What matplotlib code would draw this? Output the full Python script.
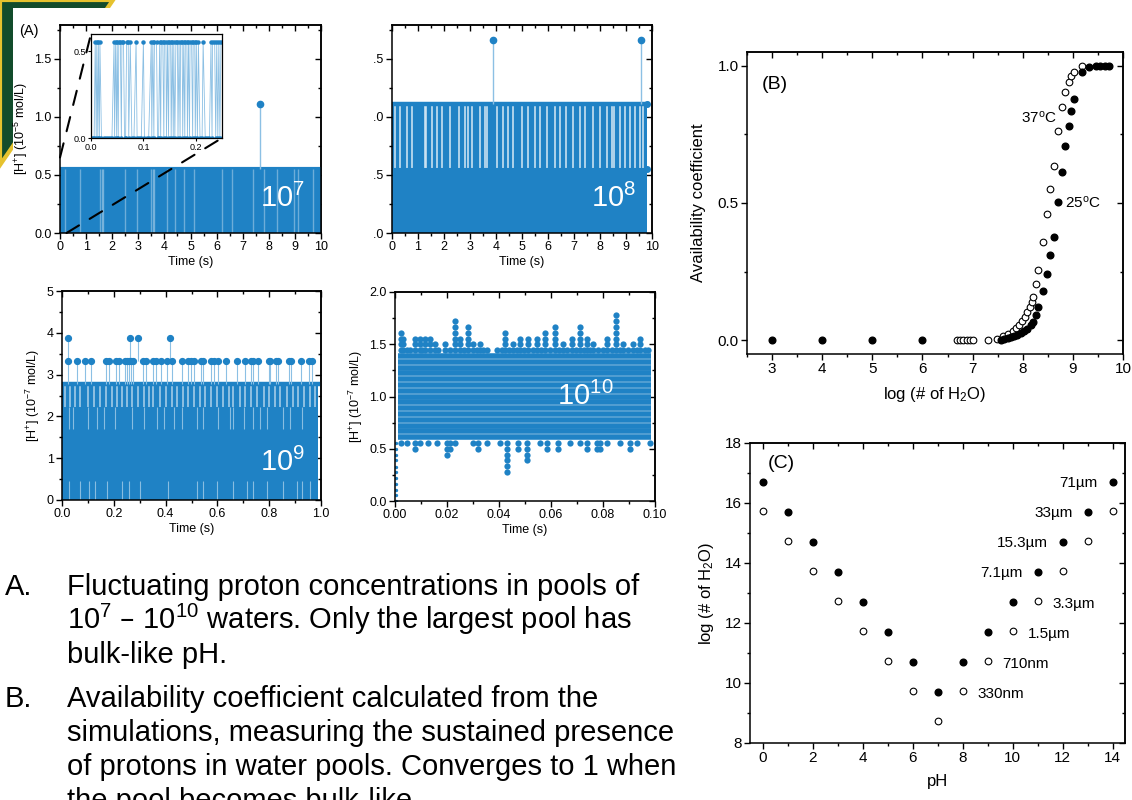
import matplotlib
matplotlib.use('Agg')
import matplotlib.pyplot as plt
import numpy as np
from matplotlib.ticker import MultipleLocator
from matplotlib.patches import Polygon, Rectangle, ConnectionPatch

plt.rcParams['font.family'] = ['Liberation Sans', 'DejaVu Sans']
plt.rcParams['mathtext.default'] = 'regular'

W, H = 1132, 800
BLUE = '#1f82c5'
LIGHT = '#8cc0e4'

# ---------------- data ----------------
# (A) 10^7 waters, units 1e-5 mol/L
a1_level = 0.555
a1_end = 10.0
a1_gaps = [0.2, 0.75, 1.55, 1.6, 1.65, 2.5, 2.95, 3.5, 3.55, 3.6, 4.1, 4.4,
           4.75, 5.15, 6.2, 6.6, 7.4, 7.8, 8.3, 8.95, 9.1, 9.7]
a1_spike_t = [7.65]
a1_spike_v = [1.11]
# inset (first 0.25 s)
in_high_t = [0.008, 0.011, 0.014, 0.017, 0.044, 0.047, 0.050, 0.053, 0.056,
             0.059, 0.062, 0.068, 0.071, 0.075, 0.086, 0.100, 0.115, 0.118,
             0.121, 0.125, 0.131, 0.134, 0.137, 0.140, 0.143, 0.146, 0.149,
             0.152, 0.155, 0.158, 0.162, 0.165, 0.168, 0.171, 0.174, 0.177,
             0.180, 0.183, 0.186, 0.189, 0.192, 0.195, 0.198, 0.201, 0.205,
             0.214, 0.229, 0.232, 0.236, 0.240, 0.244, 0.248]
in_low_t = [0.000, 0.003, 0.006, 0.010, 0.013, 0.016, 0.020, 0.024, 0.028,
            0.032, 0.036, 0.040, 0.045, 0.049, 0.052, 0.058, 0.064, 0.066,
            0.072, 0.078, 0.082, 0.088, 0.092, 0.096, 0.102, 0.106, 0.110,
            0.116, 0.120, 0.127, 0.129, 0.133, 0.139, 0.144, 0.148, 0.153,
            0.157, 0.160, 0.166, 0.170, 0.175, 0.179, 0.184, 0.188, 0.194,
            0.199, 0.203, 0.208, 0.212, 0.218, 0.222, 0.226, 0.231, 0.238,
            0.242, 0.246]

# (A) 10^8 waters, units 1e-6 mol/L
a2_levels = [0.555, 1.11]
a2_end = 9.8
a2_stripes = [0.13, 0.32, 0.58, 0.77, 1.25, 1.32, 1.53, 1.73, 1.92, 2.24,
              2.56, 2.81, 2.94, 3.07, 3.39, 3.58, 3.64, 4.03, 4.28, 4.48,
              4.67, 4.99, 5.24, 5.5, 5.69, 5.95, 6.27, 6.46, 6.71, 6.97,
              7.22, 7.42, 7.74, 7.99, 8.25, 8.45, 8.52, 8.76, 8.95, 9.14,
              9.34, 9.53, 9.65]
a2_spike_t = [3.87, 9.57]
a2_spike_v = [1.665, 1.665]

# (A) 10^9 waters, units 1e-7 mol/L
a3_levels = [2.22, 2.775]
a3_end = 0.99
a3_band_stripes = [0.013, 0.032, 0.051, 0.071, 0.099, 0.122, 0.148, 0.171,
                   0.193, 0.212, 0.231, 0.251, 0.270, 0.292, 0.315, 0.334,
                   0.353, 0.379, 0.401, 0.424, 0.443, 0.466, 0.488, 0.508,
                   0.531, 0.553, 0.575, 0.598, 0.621, 0.643, 0.662, 0.688,
                   0.707, 0.729, 0.752, 0.778, 0.801, 0.823, 0.842, 0.868,
                   0.893, 0.912, 0.934, 0.957, 0.977]
a3_mid_stripes = [0.026, 0.042, 0.099, 0.135, 0.161, 0.206, 0.270, 0.315,
                  0.366, 0.392, 0.431, 0.463, 0.521, 0.546, 0.604, 0.649,
                  0.662, 0.701, 0.739, 0.765, 0.791, 0.855, 0.881, 0.925]
a3_low_stripes = [0.026, 0.071, 0.103, 0.128, 0.173, 0.231, 0.257, 0.302,
                  0.411, 0.521, 0.546, 0.598, 0.662, 0.713, 0.739, 0.791,
                  0.855, 0.906, 0.925, 0.958]
a3_spike1_t = [0.023, 0.058, 0.088, 0.112, 0.171, 0.180, 0.208, 0.220,
               0.242, 0.251, 0.258, 0.268, 0.276, 0.312, 0.324, 0.351,
               0.362, 0.383, 0.405, 0.424, 0.463, 0.488, 0.497, 0.510,
               0.535, 0.545, 0.576, 0.585, 0.601, 0.632, 0.677, 0.707,
               0.730, 0.736, 0.758, 0.798, 0.803, 0.826, 0.835, 0.877,
               0.884, 0.924, 0.955, 0.965]
a3_spike1_v = 3.33
a3_spike2_t = [0.023, 0.261, 0.292, 0.416]
a3_spike2_v = 3.885

# (A) 10^10 waters, units 1e-7 mol/L
a4_core = [0.611, 0.666, 0.722, 0.777, 0.833, 0.888, 0.944, 0.999, 1.055,
           1.110, 1.166, 1.221, 1.277, 1.332, 1.388]
a4_span = (0.0012, 0.0985)
a4_peak_t = [0.0023, 0.0032, 0.0045, 0.0058, 0.0077, 0.0096, 0.0105, 0.0115,
             0.0135, 0.0154, 0.0165, 0.0192, 0.0212, 0.0231, 0.0250, 0.0265,
             0.0280, 0.0301, 0.0315, 0.0327, 0.0340, 0.0353, 0.0391, 0.0410,
             0.0423, 0.0440, 0.0455, 0.0470, 0.0481, 0.0495, 0.0513, 0.0530,
             0.0545, 0.0560, 0.0577, 0.0595, 0.0615, 0.0630, 0.0647, 0.0660,
             0.0679, 0.0695, 0.0712, 0.0725, 0.0737, 0.0750, 0.0763, 0.0780,
             0.0800, 0.0814, 0.0835, 0.0850, 0.0865, 0.0878, 0.0895, 0.0917,
             0.0930, 0.0942, 0.0960, 0.0974]
a4_peak_v = [1.61, 1.55, 1.44, 1.44, 1.55, 1.55, 1.44, 1.55,
             1.55, 1.50, 1.44, 1.50, 1.44, 1.72, 1.55, 1.44,
             1.66, 1.50, 1.44, 1.50, 1.44, 1.44, 1.44, 1.44,
             1.61, 1.44, 1.50, 1.44, 1.55, 1.44, 1.55, 1.44,
             1.55, 1.44, 1.61, 1.44, 1.66, 1.44, 1.50, 1.44,
             1.55, 1.44, 1.66, 1.44, 1.55, 1.44, 1.50, 1.44,
             1.44, 1.55, 1.44, 1.78, 1.44, 1.50, 1.44, 1.50,
             1.44, 1.55, 1.44, 1.44]
a4_dip_t = [0.0023, 0.0045, 0.0077, 0.0096, 0.0128, 0.0160, 0.0199, 0.0212,
            0.0231, 0.0301, 0.0320, 0.0353, 0.0404, 0.0429, 0.0474, 0.0506,
            0.0558, 0.0583, 0.0628, 0.0673, 0.0712, 0.0737, 0.0776, 0.0788,
            0.0814, 0.0865, 0.0904, 0.0929, 0.0981]
a4_dip_v = [0.55, 0.55, 0.50, 0.55, 0.55, 0.55, 0.44, 0.50,
            0.55, 0.55, 0.50, 0.55, 0.55, 0.28, 0.50, 0.39,
            0.55, 0.50, 0.50, 0.55, 0.55, 0.50, 0.50, 0.50,
            0.55, 0.55, 0.50, 0.55, 0.55]
a4_ramp_t = 0.0003
a4_ramp_v = [0.0, 0.055, 0.11, 0.165, 0.22, 0.28, 0.33, 0.39, 0.44, 0.50, 0.555]
a4_step = 0.0555

# (B) availability coefficient
b25_x = [3, 4, 5, 6, 7.57, 7.63, 7.70, 7.76, 7.83, 7.89, 7.96, 8.03, 8.09,
         8.16, 8.21, 8.26, 8.31, 8.41, 8.49, 8.55, 8.62, 8.71, 8.79, 8.85,
         8.92, 8.97, 9.02, 9.18, 9.32, 9.47, 9.55, 9.64, 9.72]
b25_y = [0, 0, 0, 0, 0.002, 0.005, 0.007, 0.011, 0.015, 0.019, 0.025, 0.032,
         0.042, 0.054, 0.068, 0.093, 0.12, 0.178, 0.243, 0.31, 0.376, 0.504,
         0.614, 0.707, 0.78, 0.835, 0.88, 0.976, 0.997, 1.0, 1.0, 1.0, 1.0]
b37_x = [6.68, 6.75, 6.81, 6.88, 6.95, 7.01, 7.31, 7.48, 7.61, 7.71, 7.80,
         7.86, 7.93, 7.99, 8.04, 8.09, 8.14, 8.18, 8.20, 8.26, 8.31, 8.41,
         8.49, 8.55, 8.62, 8.71, 8.79, 8.85, 8.92, 8.97, 9.02, 9.18]
b37_y = [0, 0, 0, 0, 0, 0, 0.002, 0.006, 0.014, 0.024, 0.034, 0.045, 0.057,
         0.069, 0.084, 0.102, 0.12, 0.139, 0.157, 0.205, 0.257, 0.359, 0.461,
         0.551, 0.635, 0.763, 0.849, 0.904, 0.94, 0.964, 0.978, 1.0]

# (C) pool size vs pH
c_ph = [0, 1, 2, 3, 4, 5, 6, 7, 8, 9, 10, 11, 12, 13, 14]
c_filled = [16.7, 15.7, 14.7, 13.7, 12.7, 11.7, 10.7, 9.7, 10.7, 11.7, 12.7,
            13.7, 14.7, 15.7, 16.7]
c_open = [15.73, 14.73, 13.73, 12.73, 11.73, 10.73, 9.73, 8.73, 9.73, 10.73,
          11.73, 12.73, 13.73, 14.73, 15.73]
c_left_labels = ['7.1\u00b5m', '15.3\u00b5m', '33\u00b5m', '71\u00b5m']
c_left_idx = [11, 12, 13, 14]
c_right_labels = ['330nm', '710nm', '1.5\u00b5m', '3.3\u00b5m']
c_right_idx = [8, 9, 10, 11]

text_a = ['Fluctuating proton concentrations in pools of',
          '$10^{7}$ \u2013 $10^{10}$ waters. Only the largest pool has',
          'bulk-like pH.']
text_b = ['Availability coefficient calculated from the',
          'simulations, measuring the sustained presence',
          'of protons in water pools. Converges to 1 when',
          'the pool becomes bulk-like.']


def box(x0, y0, x1, y1):
    return [x0 / W, 1 - y1 / H, (x1 - x0) / W, (y1 - y0) / H]


def frame(ax, xmaj, xmin, ymaj, ymin, size=9):
    """Origin-like frame: ticks out on bottom/left, in on top/right"""
    ax.xaxis.set_major_locator(MultipleLocator(xmaj))
    ax.xaxis.set_minor_locator(MultipleLocator(xmin))
    ax.yaxis.set_major_locator(MultipleLocator(ymaj))
    ax.yaxis.set_minor_locator(MultipleLocator(ymin))
    ax.tick_params(which='both', direction='out', labelsize=size, width=1.0,
                   pad=2)
    ax.tick_params(which='major', length=4)
    ax.tick_params(which='minor', length=2.5)
    for sp in ax.spines.values():
        sp.set_linewidth(1.1)
    top = ax.secondary_xaxis('top')
    top.xaxis.set_major_locator(MultipleLocator(xmaj))
    top.xaxis.set_minor_locator(MultipleLocator(xmin))
    top.tick_params(which='both', direction='in', labeltop=False, width=1.0)
    top.tick_params(which='major', length=4)
    top.tick_params(which='minor', length=2.5)
    top.spines['top'].set_linewidth(1.1)
    right = ax.secondary_yaxis('right')
    right.yaxis.set_major_locator(MultipleLocator(ymaj))
    right.yaxis.set_minor_locator(MultipleLocator(ymin))
    right.tick_params(which='both', direction='in', labelright=False, width=1.0)
    right.tick_params(which='major', length=4)
    right.tick_params(which='minor', length=2.5)
    right.spines['right'].set_linewidth(1.1)


fig = plt.figure(figsize=(W / 100, H / 100), dpi=100)

# slide decoration: green corner with yellow edge, white page on top
fig.patches.append(Polygon([(0, 1), (113 / W, 1), (0, 1 - 165 / H)],
                           closed=True, facecolor='#124c2b',
                           edgecolor='#e6c22e', lw=3,
                           transform=fig.transFigure, zorder=-3))
fig.patches.append(Rectangle((13 / W, 0), 1, 1 - 8 / H, facecolor='white',
                             edgecolor='none', transform=fig.transFigure,
                             zorder=-2))

# ---------- A1 ----------
ax1 = fig.add_axes(box(60, 25, 321, 233))
ax1.fill_between([0, a1_end], 0, a1_level, color=BLUE, lw=0)
ax1.plot([0, a1_end], [a1_level, a1_level], color=BLUE, lw=3)
ax1.vlines(a1_gaps, 0, a1_level, color='white', alpha=0.35, lw=1)
ax1.vlines(a1_spike_t, a1_level, a1_spike_v, color=LIGHT, lw=1)
ax1.plot(a1_spike_t, a1_spike_v, 'o', color=BLUE, ms=4.5)
ax1.set_xlim(0, 10)
ax1.set_ylim(0, 1.79)
frame(ax1, 1, 0.5, 0.5, 0.25)
ax1.set_xlabel('Time (s)', fontsize=9, labelpad=2)
ax1.set_ylabel('[H$^{+}$] (10$^{-5}$ mol/L)', fontsize=9, labelpad=3)
ax1.text(9.4, 0.3, '$10^{7}$', color='white', fontsize=21, ha='right',
         va='center')
fig.text(29 / W, 1 - 31 / H, '(A)', fontsize=10.5, ha='center', va='center')

axin = fig.add_axes(box(91, 34, 222, 138))
in_t = sorted([(t, a1_level) for t in in_high_t] + [(t, 0.0) for t in in_low_t])
axin.plot([p[0] for p in in_t], [p[1] for p in in_t], color=LIGHT, lw=0.6)
axin.plot(in_high_t, [a1_level] * len(in_high_t), 'o', color=BLUE, ms=2.2)
axin.plot(in_low_t, [0.0] * len(in_low_t), 'o', color=BLUE, ms=2.2)
axin.set_xlim(0, 0.25)
axin.set_ylim(0, 0.6)
axin.xaxis.set_major_locator(MultipleLocator(0.1))
axin.yaxis.set_major_locator(MultipleLocator(0.5))
axin.tick_params(labelsize=6.5, length=2.5, pad=1, direction='out')
for sp in axin.spines.values():
    sp.set_linewidth(0.9)

for xyA, xyB in (((0, 0.65), (0, 1)), ((0.25, 0), (1, 0))):
    con = ConnectionPatch(xyA=xyA, coordsA=ax1.transData, xyB=xyB,
                          coordsB=axin.transAxes, color='black', lw=1.5,
                          linestyle=(0, (7, 6)), zorder=6)
    fig.add_artist(con)

# ---------- A2 ----------
ax2 = fig.add_axes(box(392, 25, 652, 233))
ax2.fill_between([0, a2_end], 0, a2_levels[1], color=BLUE, lw=0)
ax2.vlines(a2_stripes, a2_levels[0], a2_levels[1], color='#d4e8f5',
           alpha=0.85, lw=1.3)
ax2.plot([0, a2_end], [a2_levels[1]] * 2, color=BLUE, lw=3.2)
ax2.plot([0, a2_end], [a2_levels[0]] * 2, color=BLUE, lw=1.5)
ax2.plot([a2_end, a2_end], a2_levels, 'o', color=BLUE, ms=4)
ax2.vlines(a2_spike_t, a2_levels[1], a2_spike_v, color=LIGHT, lw=1)
ax2.plot(a2_spike_t, a2_spike_v, 'o', color=BLUE, ms=4.5)
ax2.set_xlim(0, 10)
ax2.set_ylim(0, 1.79)
frame(ax2, 1, 0.5, 0.5, 0.25)
ax2.set_xlabel('Time (s)', fontsize=9, labelpad=2)
ax2.text(9.4, 0.3, '$10^{8}$', color='white', fontsize=21, ha='right',
         va='center')

# white page margin covering the left part of A2 tick labels
fig.patches.append(Rectangle((326 / W, 1 - 239 / H), 48 / W, 219 / H,
                             facecolor='white', edgecolor='none',
                             transform=fig.transFigure, zorder=10))

# ---------- A3 ----------
ax3 = fig.add_axes(box(62, 291, 321, 500))
ax3.fill_between([0, a3_end], 0, a3_levels[1], color=BLUE, lw=0)
ax3.vlines(a3_band_stripes, a3_levels[0], a3_levels[1], color='#cfe5f4',
           alpha=0.8, lw=1.1)
ax3.vlines(a3_mid_stripes, 1.7, a3_levels[0], color='#cfe5f4', alpha=0.6,
           lw=0.8)
ax3.vlines(a3_low_stripes, 0, 0.45, color='#cfe5f4', alpha=0.6, lw=0.8)
ax3.plot([0, a3_end], [a3_levels[1]] * 2, color=BLUE, lw=3.2)
ax3.vlines(a3_spike1_t, a3_levels[1], a3_spike1_v, color=LIGHT, lw=0.8)
ax3.vlines(a3_spike2_t, a3_spike1_v, a3_spike2_v, color=LIGHT, lw=0.8)
ax3.plot(a3_spike1_t, [a3_spike1_v] * len(a3_spike1_t), 'o', color=BLUE,
         ms=4.2)
ax3.plot(a3_spike2_t, [a3_spike2_v] * len(a3_spike2_t), 'o', color=BLUE,
         ms=4.2)
ax3.set_xlim(0, 1)
ax3.set_ylim(0, 5)
frame(ax3, 0.2, 0.1, 1, 0.5)
ax3.set_xlabel('Time (s)', fontsize=9, labelpad=2)
ax3.set_ylabel('[H$^{+}$] (10$^{-7}$ mol/L)', fontsize=9, labelpad=3)
ax3.text(0.94, 0.9, '$10^{9}$', color='white', fontsize=21, ha='right',
         va='center')

# ---------- A4 ----------
ax4 = fig.add_axes(box(395, 292, 655, 501))
ax4.hlines(a4_core, a4_span[0], a4_span[1], color=BLUE, lw=4.0)
for t, v in zip(a4_peak_t, a4_peak_v):
    lv = np.arange(a4_core[-1] + a4_step, v + 0.01, a4_step)
    ax4.plot([t] * len(lv), lv, 'o', color=BLUE, ms=4.5, mew=0)
for t, v in zip(a4_dip_t, a4_dip_v):
    lv = np.arange(a4_core[0] - a4_step, v - 0.01, -a4_step)
    ax4.plot([t] * len(lv), lv, 'o', color=BLUE, ms=4.5, mew=0)
ax4.plot([a4_ramp_t] * len(a4_ramp_v), a4_ramp_v, 'o', color=BLUE, ms=2.4,
         mew=0)
ax4.set_xlim(0, 0.1)
ax4.set_ylim(0, 2)
frame(ax4, 0.02, 0.01, 0.5, 0.25)
ax4.set_xlabel('Time (s)', fontsize=9, labelpad=2)
ax4.set_ylabel('[H$^{+}$] (10$^{-7}$ mol/L)', fontsize=9, labelpad=3)
ax4.text(0.084, 1.0, '$10^{10}$', color='white', fontsize=21, ha='right',
         va='center')

# ---------- B ----------
axb = fig.add_axes(box(747, 52, 1123, 354))
axb.plot(b37_x, b37_y, 'o', mfc='white', mec='black', mew=0.8, ms=4.8,
         ls='none')
axb.plot(b25_x, b25_y, 'o', color='black', ms=4.8, ls='none')
axb.set_xlim(2.5, 10)
axb.set_ylim(-0.05, 1.05)
frame(axb, 1, 0.5, 0.5, 0.25, size=11)
axb.set_xlabel('log (# of H$_2$O)', fontsize=12, labelpad=6)
axb.set_ylabel('Availability coefficient', fontsize=12, labelpad=8)
axb.text(2.8, 0.93, '(B)', fontsize=14, va='center')
axb.text(7.97, 0.81, '37$^{o}$C', fontsize=11, va='center')
axb.text(8.84, 0.5, '25$^{o}$C', fontsize=11, va='center')

# ---------- C ----------
axc = fig.add_axes(box(750, 443, 1125, 743))
axc.plot(c_ph, c_open, 'o', mfc='white', mec='black', mew=0.8, ms=4.8,
         ls='none')
axc.plot(c_ph, c_filled, 'o', color='black', ms=4.8, ls='none')
for lab, i in zip(c_left_labels, c_left_idx):
    axc.text(c_ph[i] - 0.6, c_filled[i] - 0.05, lab, fontsize=11,
             ha='right', va='center')
for lab, i in zip(c_right_labels, c_right_idx):
    axc.text(c_ph[i] + 0.6, c_open[i] - 0.1, lab, fontsize=11,
             ha='left', va='center')
axc.set_xlim(-0.5, 14.5)
axc.set_ylim(8, 18)
frame(axc, 2, 1, 2, 1, size=11)
axc.set_xlabel('pH', fontsize=12, labelpad=6)
axc.set_ylabel('log (# of H$_2$O)', fontsize=12, labelpad=6)
axc.text(0.2, 17.3, '(C)', fontsize=14, va='center')

# ---------- slide text ----------
fs = 21
fig.text(5 / W, 1 - 595 / H, 'A.', fontsize=fs, va='baseline')
for k, line in enumerate(text_a):
    fig.text(67 / W, 1 - (595 + 34 * k) / H, line, fontsize=fs,
             va='baseline')
fig.text(5 / W, 1 - 707 / H, 'B.', fontsize=fs, va='baseline')
for k, line in enumerate(text_b):
    fig.text(67 / W, 1 - (707 + 34 * k) / H, line, fontsize=fs,
             va='baseline')

fig.savefig('out.png', dpi=100)
